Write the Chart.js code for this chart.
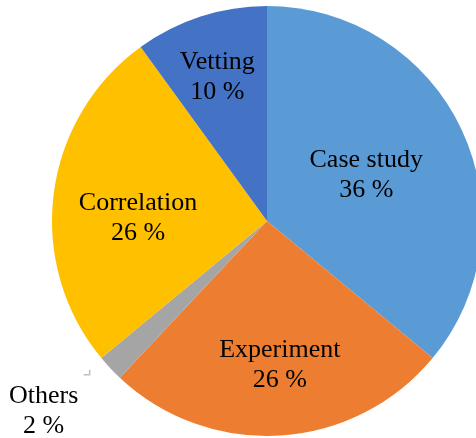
<!DOCTYPE html>
<html><head><meta charset="utf-8">
<script src="https://cdn.jsdelivr.net/npm/chart.js@4"></script>
<style>html,body{margin:0;padding:0;background:#fff;overflow:hidden;width:476px;height:438px}canvas{display:block}</style>
</head><body>
<canvas id="c" width="482" height="438"></canvas>
<script>
const categories = ["Case study", "Experiment", "Others", "Correlation", "Vetting"];
const values = [36, 26, 2, 26, 10];
const colors = ["#5B9BD5", "#ED7D31", "#A5A5A5", "#FFC000", "#4472C4"];
const labelRadius = [0.51, 0.67, 1.36, 0.6, 0.71];
const labelAngleShift = [0, -1.5, 3, -5.5, -1]; // degrees

const labelPlugin = {
  id: 'sliceLabels',
  afterDatasetsDraw(chart) {
    const ctx = chart.ctx;
    const meta = chart.getDatasetMeta(0);
    ctx.save();
    ctx.font = '26px "Liberation Serif", "Times New Roman", serif';
    ctx.fillStyle = '#000';
    ctx.textAlign = 'center';
    ctx.textBaseline = 'middle';
    meta.data.forEach((arc, i) => {
      const p = arc.getProps(['x','y','startAngle','endAngle','outerRadius'], true);
      const mid = (p.startAngle + p.endAngle) / 2 + labelAngleShift[i] * Math.PI / 180;
      const r = p.outerRadius * labelRadius[i];
      const x = p.x + Math.cos(mid) * r;
      const y = p.y + Math.sin(mid) * r;
      ctx.fillText(categories[i], x, y - 14);
      ctx.fillText(values[i] + ' %', x, y + 16);
      if (labelRadius[i] > 1) {
        ctx.strokeStyle = '#BFBFBF';
        ctx.lineWidth = 1.5;
        ctx.beginPath();
        ctx.moveTo(x + 46, y - 40);
        ctx.lineTo(x + 46, y - 35);
        ctx.lineTo(x + 40, y - 35);
        ctx.stroke();
      }
    });
    ctx.restore();
  }
};

new Chart(document.getElementById('c'), {
  type: 'pie',
  data: {
    labels: categories,
    datasets: [{ data: values, backgroundColor: colors, borderWidth: 0 }]
  },
  options: {
    responsive: false,
    animation: false,
    layout: { padding: { left: 52, top: 6, bottom: 2, right: 0 } },
    plugins: { legend: { display: false }, tooltip: { enabled: false } }
  },
  plugins: [labelPlugin]
});
</script>
</body></html>
